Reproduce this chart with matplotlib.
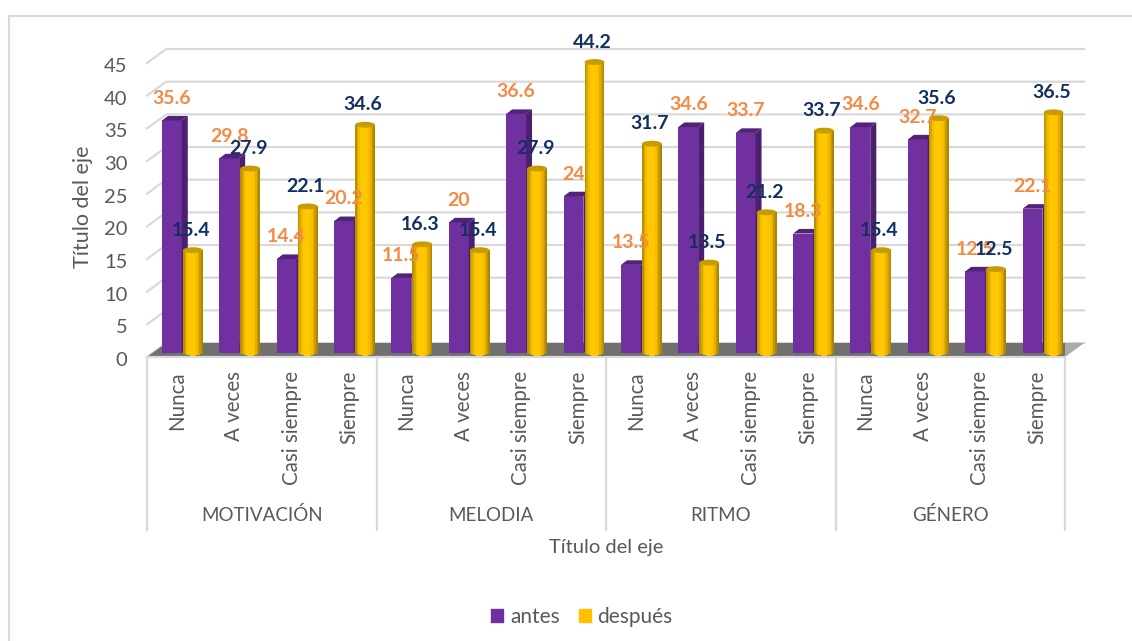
import numpy as np
import matplotlib
matplotlib.use('Agg')
import matplotlib.pyplot as plt
from matplotlib.lines import Line2D
from matplotlib.patches import Ellipse, Patch
from matplotlib.transforms import ScaledTranslation

plt.rcParams['font.family'] = ['Lato', 'DejaVu Sans']

groups = ['MOTIVACIÓN', 'MELODIA', 'RITMO', 'GÉNERO']
categories = ['Nunca', 'A veces', 'Casi siempre', 'Siempre']
antes = [35.6, 29.8, 14.4, 20.2, 11.5, 20, 36.6, 24, 13.5, 34.6, 33.7, 18.3, 34.6, 32.7, 12.5, 22.1]
despues = [15.4, 27.9, 22.1, 34.6, 16.3, 15.4, 27.9, 44.2, 31.7, 13.5, 21.2, 33.7, 15.4, 35.6, 12.5, 36.5]
y_ticks = [0, 5, 10, 15, 20, 25, 30, 35, 40, 45]

W, H = 1132, 641
GRAY = '#595959'
GRID = '#D9D9D9'
PURPLE = '#7030A0'
ORANGE = '#F58A45'
NAVY = '#12305F'

# wall depth and bar depth, in data units
DX, DY = 0.335, 2.14
BAR_X, BAR_Y = 0.105, 0.7
BASE = 0.6
BAR_W = 0.345
EDGE_COLORS = ['#B89000', '#D9A800', '#F2BC00', '#FFC600', '#FFC800', '#FFC800',
               '#FFC800', '#FFC400', '#F5BC00', '#E5AE00', '#C89C00', '#AD8600']


def draw_walls(ax):
    for t in y_ticks:
        ax.plot([0, DX, 16 + DX], [t, t + DY, t + DY], color=GRID, lw=1.6, clip_on=False, zorder=1)
    ax.fill([0, 16, 16, DX], [0, 0, DY, DY], color='#707070', lw=0, clip_on=False, zorder=2)
    ax.fill([16, 16 + DX, 16], [0, DY, DY], color='#ABABAB', lw=0, clip_on=False, zorder=2)
    ax.plot([0, 16], [0, 0], color=GRID, lw=1.6, clip_on=False, zorder=3)


def draw_box(ax, x, v):
    ax.bar(x, v, BAR_W, bottom=BASE, align='edge', color=PURPLE, lw=0, zorder=4)
    right = x + BAR_W
    top = BASE + v
    ax.fill([right, right + BAR_X, right + BAR_X, right], [BASE, BASE + BAR_Y, top + BAR_Y, top],
            color='#4B2070', lw=0, zorder=4)
    ax.fill([x, x + BAR_X, right + BAR_X, right], [top, top + BAR_Y, top + BAR_Y, top],
            color='#512378', lw=0, zorder=4)


def draw_cylinder(ax, x, v):
    n = len(EDGE_COLORS)
    w = BAR_W / n
    bottom = BASE + 0.15
    lift = 0.2  # top sits slightly above the box tops
    for k, c in enumerate(EDGE_COLORS):
        u = (k + 0.5) / n * 2 - 1
        drop = 0.55 * np.sqrt(1 - u * u)
        ax.bar(x + k * w, v + lift + drop, w * 1.05, bottom=bottom - drop, align='edge', color=c, lw=0,
               zorder=5, clip_on=False)
    ax.add_patch(Ellipse((x + BAR_W / 2, bottom + v + lift), BAR_W, 0.9, color='#C79C00', lw=0, zorder=6,
                         clip_on=False))


def draw_labels(ax, x, v, text, color, shift=0):
    ax.annotate(text, (x + BAR_W / 2, v + BASE), xytext=(shift, 16), textcoords='offset points',
                ha='center', va='center', color=color, fontsize=14, fontweight='bold', zorder=8,
                annotation_clip=False)


def draw_category_axis(ax):
    for i in range(len(groups) + 1):
        ax.plot([i * 4, i * 4], [0, -26.5], color=GRID, lw=1.6, clip_on=False, zorder=3)
    for i, g in enumerate(groups):
        ax.annotate(g, (i * 4 + 2, 0), xytext=(0, -114), textcoords='offset points', ha='center', va='center',
                    color=GRAY, fontsize=13.5, annotation_clip=False)
        for j, c in enumerate(categories):
            ax.annotate(c, (i * 4 + j + 0.52, 0), xytext=(0, -10), textcoords='offset points', ha='center', va='top',
                        rotation=90, color=GRAY, fontsize=14.8, annotation_clip=False)


def main():
    fig = plt.figure(figsize=(W / 100, H / 100), dpi=100, facecolor='white')
    # chart frame: only the top and left edges show in the crop
    fig.add_artist(Line2D([9 / W, 9 / W, 1], [0, 1 - 16 / H, 1 - 16 / H], transform=fig.transFigure,
                          color=GRID, lw=1.5))
    ax = fig.add_axes([147 / W, 1 - 357 / H, 918 / W, 294 / H])
    ax.set_xlim(0, 16)
    ax.set_ylim(0, 45)
    ax.patch.set_visible(False)
    for s in ax.spines.values():
        s.set_visible(False)

    draw_walls(ax)
    for i in range(16):
        draw_box(ax, i + 0.261, antes[i])
        draw_cylinder(ax, i + 0.627, despues[i])
        draw_labels(ax, i + 0.261, antes[i], f'{antes[i]:g}', ORANGE)
        draw_labels(ax, i + 0.627, despues[i], f'{despues[i]:g}', NAVY, shift=-1.5)

    ax.set_xticks([])
    ax.set_yticks(y_ticks)
    ax.tick_params(axis='y', length=0, pad=14, labelsize=14.5, labelcolor=GRAY)
    for lab in ax.get_yticklabels():
        lab.set_transform(lab.get_transform() + ScaledTranslation(0, -2 / 100, fig.dpi_scale_trans))
    draw_category_axis(ax)

    ax.set_ylabel('Título del eje', color=GRAY, fontsize=15.5)
    ax.yaxis.set_label_coords((83 - 147) / 918, (357 - 207) / 294)
    ax.yaxis.label.set_va('center')
    ax.set_xlabel('Título del eje', color=GRAY, fontsize=14.5)
    ax.xaxis.set_label_coords((606 - 147) / 918, (357 - 548) / 294)
    ax.xaxis.label.set_va('center')

    handles = [Patch(color=PURPLE), Patch(color='#FFC000')]
    fig.legend(handles, ['antes', 'después'], loc='center', bbox_to_anchor=(582 / W, 1 - 617 / H), ncol=2,
               frameon=False, fontsize=15, labelcolor=GRAY, handlelength=0.58, handleheight=0.58,
               handletextpad=0.33, columnspacing=0.9)
    fig.savefig('out.png', dpi=100)


if __name__ == "__main__":
    main()
